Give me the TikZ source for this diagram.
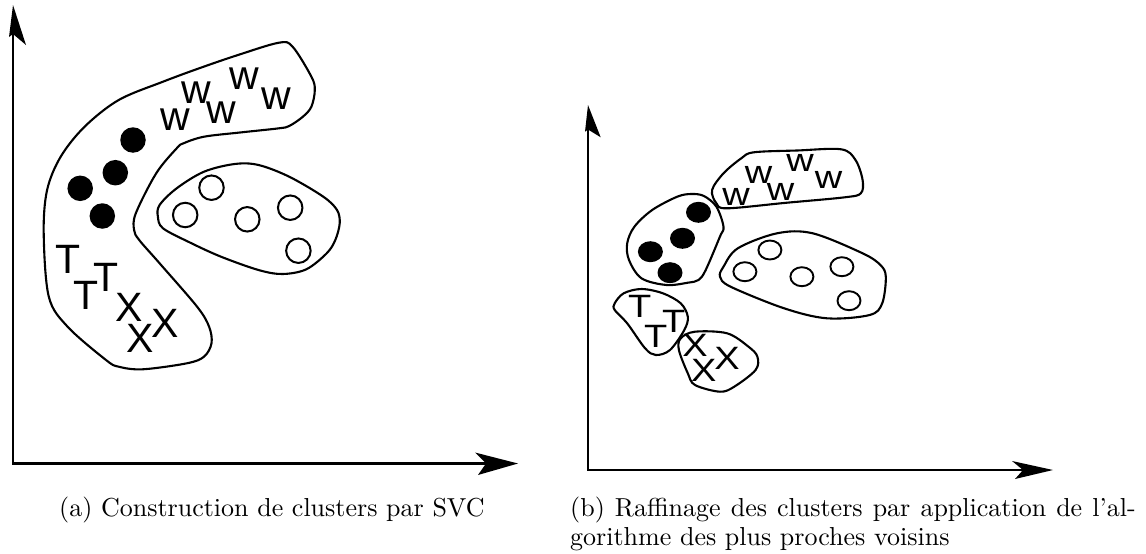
\documentclass[tikz,border=0pt]{standalone}
\usepackage{fontspec}
\newfontfamily\helv{Liberation Sans}
\usetikzlibrary{shapes.geometric}
\begin{document}
\begin{tikzpicture}[x=1pt,y=-1pt,
  outline/.style={draw=black, line width=2.1pt, line join=round},
  axisline/.style={draw=black, line width=2.4pt},
  headfill/.style={fill=black},
  lettA/.style={font=\helv\fontsize{41}{43}\selectfont, inner sep=0pt},
  lettB/.style={font=\helv\fontsize{38}{40}\selectfont, inner sep=0pt},
  fdotA/.style={circle, fill=black, minimum size=25.5pt, inner sep=0pt},
  odotA/.style={circle, draw=black, line width=2pt, minimum size=24.5pt, inner sep=0pt},
  fdotB/.style={ellipse, fill=black, minimum width=25pt, minimum height=21pt, inner sep=0pt},
  odotB/.style={ellipse, draw=black, line width=1.9pt, minimum width=23pt, minimum height=19pt, inner sep=0pt},
  captext/.style={inner sep=0pt, anchor=base west}
]
\useasboundingbox (0,0) rectangle (1146,554);
\fill[white] (0,0) rectangle (1146,554);

% ---------- left panel: axes ----------
\coordinate (oA) at (13,463.5);
\coordinate (yA) at (13,30);
\coordinate (xA) at (490,463.5);
\draw[axisline] (yA) -- (oA) -- (xA);
\fill[headfill] (13,5) -- (26,45) -- (13,34) -- (9,37) -- cycle;
\fill[headfill] (518,463.5) -- (475,452.5) -- (486,463.5) -- (478,475) -- cycle;

% ---------- left panel: clusters ----------
\draw[outline] plot[smooth cycle, tension=0.55] coordinates {
 (279,42.7) (292.6,46.7) (311.4,76.7) (314.8,90) (311.4,106.7) (302.9,116.7)
 (289.2,126) (279,128.3) (240,132.5) (204,136.7) (183.5,143.3) (176.7,148.3)
 (156.2,173.3) (135.8,213.3) (134.1,230) (139.2,240) (159.6,263.3) (197.1,306.7)
 (209.1,326.7) (211.5,343.3) (204,356.7) (186.9,363.3) (142.6,369.3) (118.7,366.7)
 (106,360) (67.6,326.7) (48.8,296.7) (43.7,233.3) (47.1,190)
 (60.7,156.7) (84.6,126.7) (118.7,100) (163,81.7) (200,68) (238,55)};
\draw[outline] plot[smooth cycle, tension=0.55] coordinates {
 (234.7,164) (258.5,165) (289.2,176.7) (323.3,196.7) (337,210) (339.7,223.3)
 (335.3,240) (326.7,253.3) (306.3,269.3) (282.4,274) (258.5,270) (221,256.7)
 (190.3,242.7) (163,228.3) (157.9,216.7) (159.6,205) (176.7,188.3) (204,171.7)};

% dots
\node[fdotA] (fa1) at (133,140) {};
\node[fdotA] (fa2) at (115.3,172.7) {};
\node[fdotA] (fa3) at (80.2,188.3) {};
\node[fdotA] (fa4) at (102.3,216) {};
\node[odotA] (oa1) at (211.5,187.7) {};
\node[odotA] (oa2) at (185.2,215) {};
\node[odotA] (oa3) at (247.3,219.3) {};
\node[odotA] (oa4) at (290.2,207.7) {};
\node[odotA] (oa5) at (298.4,250.7) {};

% letters
\node[lettA] (wa1) at (175.7,120) {w};
\node[lettA] (wa2) at (196.1,92.3) {w};
\node[lettA] (wa3) at (221,112.3) {w};
\node[lettA] (wa4) at (243.9,79) {w};
\node[lettA] (wa5) at (276,98.3) {w};
\node[lettA] (ta1) at (68.5,259) {T};
\node[lettA] (ta2) at (86.3,295.5) {T};
\node[lettA] (ta3) at (105.8,277) {T};
\node[lettA] (xa1) at (129,307.5) {X};
\node[lettA] (xa2) at (164.7,323.3) {X};
\node[lettA] (xa3) at (140,338.3) {X};

% ---------- right panel: axes ----------
\coordinate (oB) at (588,470);
\coordinate (yB) at (588,125);
\coordinate (xB) at (1030,470);
\draw[axisline] (yB) -- (oB) -- (xB);
\fill[headfill] (588,105) -- (600.7,137.3) -- (588,129.5) -- (585,131.7) -- cycle;
\fill[headfill] (1053,470) -- (1012,461) -- (1023,470) -- (1015,479) -- cycle;

% ---------- right panel: clusters ----------
\draw[outline] plot[smooth cycle, tension=0.55] coordinates {
 (753.8,152.3) (797,150.5) (841.2,149.3) (855.5,160) (862.6,180) (860.8,193.3)
 (844.8,197.3) (786,202.8) (727.1,208.3) (716.4,203.3) (712.1,190) (723.5,173.3)
 (741.3,158.3)};
\draw[outline] plot[smooth cycle, tension=0.55] coordinates {
 (691.4,194) (703.9,196) (716.4,206.7) (723.5,226.7) (719.9,236.7) (705.7,270)
 (698.5,280) (687.8,282.7) (666.5,285) (641.5,278.3) (629,260) (627.2,243.3)
 (634.4,226.7) (652.2,210) (677.2,196.7)};
\draw[outline] plot[smooth cycle, tension=0.55] coordinates {
 (723.5,266.7) (737.8,248.3) (777,233.3) (812.7,233.3) (862.6,253.3) (880.4,265)
 (885.8,276.7) (882.2,303.3) (869.7,315) (826.9,318.3) (784.1,308.3) (730.6,286.7)
 (720,276.7)};
\draw[outline] plot[smooth cycle, tension=0.55] coordinates {
 (614.7,303.3) (623.7,293.3) (641.5,289) (662.9,293.3) (680.7,303.3) (687.8,316.7)
 (684.3,330) (670,350) (655.8,355) (645.1,348.3) (627.2,323.3) (614.7,310)};
\draw[outline] plot[smooth cycle, tension=0.55] coordinates {
 (680.7,338.3) (695,331.7) (727.1,333.3) (748.5,346.7) (757.4,356.7) (755.6,370)
 (734.2,386.7) (719.9,391.7) (695,385) (687.8,373.3) (678.9,350)};

% dots
\node[fdotB] (fb1) at (698.5,212.3) {};
\node[fdotB] (fb2) at (682.5,238.3) {};
\node[fdotB] (fb3) at (650.4,251.7) {};
\node[fdotB] (fb4) at (670,272.7) {};
\node[odotB] (ob1) at (769.9,250) {};
\node[odotB] (ob2) at (744.9,271.7) {};
\node[odotB] (ob3) at (801.9,276.7) {};
\node[odotB] (ob4) at (841.9,266.7) {};
\node[odotB] (ob5) at (849,300.7) {};

% letters
\node[lettB] (wb1) at (736,196.7) {\scalebox{1}[0.85]{w}};
\node[lettB] (wb2) at (758.5,175) {\scalebox{1}[0.85]{w}};
\node[lettB] (wb3) at (780.6,191.7) {\scalebox{1}[0.85]{w}};
\node[lettB] (wb4) at (800.2,163.3) {\scalebox{1}[0.85]{w}};
\node[lettB] (wb5) at (828.7,180) {\scalebox{1}[0.85]{w}};
\node[lettB] (tb1) at (639.7,306.7) {\scalebox{1}[0.85]{T}};
\node[lettB] (tb2) at (655.8,336.7) {\scalebox{1}[0.85]{T}};
\node[lettB] (tb3) at (673.6,321.7) {\scalebox{1}[0.85]{T}};
\node[lettB] (xb1) at (695,345) {\scalebox{1}[0.85]{X}};
\node[lettB] (xb2) at (727.1,358.3) {\scalebox{1}[0.85]{X}};
\node[lettB] (xb3) at (703.9,370) {\scalebox{1}[0.85]{X}};

% ---------- captions ----------
\node[captext] (capa) at (59,516) {\scalebox{2.6}{\fontsize{10}{12}\selectfont (a) Construction de clusters par SVC}};
\node[captext] (capb1) at (570,516) {\scalebox{2.6}{\fontsize{10}{12}\selectfont\makebox[217.5pt][s]{(b) Raffinage des clusters par application de l'al-}}};
\node[captext] (capb2) at (570,545) {\scalebox{2.6}{\fontsize{10}{12}\selectfont gorithme des plus proches voisins}};
\end{tikzpicture}
\end{document}
